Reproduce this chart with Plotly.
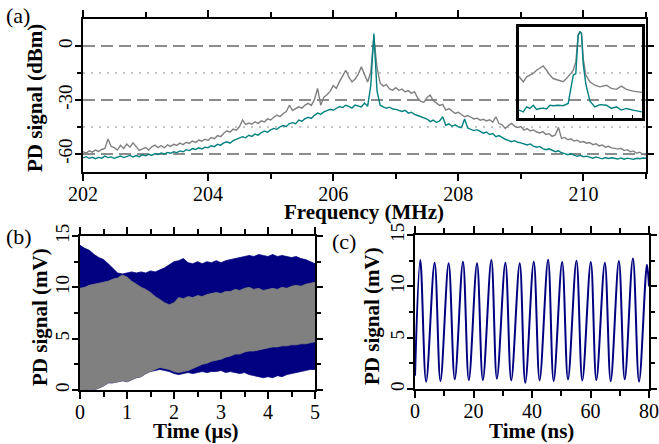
import plotly.graph_objects as go

# ---------------- (a) RF spectrum of the photodiode signal ----------------
# analyser sweep: 202-211 MHz, 0.05 MHz bins
freq_mhz = [round(202.0 + 0.05 * i, 2) for i in range(181)]

spec_gray_dbm = [
    -58.7, -59.5, -58.2, -59.0, -57.8, -58.6, -57.5, -56.9, -51.7, -55.8,
    -56.5, -57.8, -55.2, -56.9, -54.5, -56.2, -53.8, -55.9, -58.0, -57.2,
    -56.4, -57.8, -56.0, -55.1, -56.5, -55.3, -56.6, -54.9, -55.8, -54.6,
    -55.2, -53.9, -54.8, -53.5, -54.1, -52.8, -53.6, -52.3, -52.9, -51.8,
    -52.4, -50.9, -51.5, -49.8, -50.4, -48.5, -47.1, -47.9, -46.2, -46.8,
    -44.9, -41.2, -43.6, -42.8, -43.5, -42.1, -43.0, -41.6, -42.2, -40.5,
    -41.1, -39.6, -38.4, -39.2, -37.5, -36.4, -32.9, -35.8, -34.6, -33.8,
    -34.5, -32.8, -31.9, -33.0, -29.8, -23.6, -32.9, -28.4, -27.1, -25.2,
    -22.0, -23.5, -19.8, -16.9, -13.5, -17.2, -20.0, -18.3, -15.6, -11.6,
    -16.2, -20.0, -14.5, 5.0, -12.0, -20.7, -22.3, -21.5, -23.8, -24.5,
    -23.2, -24.6, -23.9, -25.5, -24.8, -26.3, -25.4, -28.9, -30.8, -31.2,
    -28.6, -27.3, -30.5, -31.8, -33.0, -32.4, -35.6, -34.8, -36.2, -37.5,
    -36.8, -38.1, -39.3, -38.6, -39.8, -40.5, -40.1, -41.2, -40.7, -41.6,
    -41.0, -42.3, -39.3, -43.1, -43.8, -45.8, -44.2, -43.0, -44.5, -45.3,
    -44.8, -46.7, -45.9, -47.2, -46.5, -47.8, -48.3, -47.6, -49.1, -48.7,
    -50.2, -49.4, -45.2, -51.3, -50.8, -52.1, -51.6, -52.8, -52.3, -53.5,
    -53.1, -54.0, -53.6, -54.8, -54.3, -55.5, -55.0, -56.2, -55.7, -56.6,
    -56.9, -57.3, -56.8, -58.1, -57.6, -58.8, -58.3, -59.6, -59.0, -60.2,
    -60.5,
]

spec_teal_dbm = [
    -62.2, -61.5, -62.4, -61.8, -62.6, -61.9, -62.3, -61.2, -62.0, -61.6,
    -62.4, -61.7, -61.1, -62.0, -61.4, -60.8, -61.6, -60.9, -61.5, -60.4,
    -61.0, -60.2, -60.8, -59.7, -60.3, -59.4, -60.0, -59.1, -59.6, -58.8,
    -59.2, -58.3, -58.8, -57.6, -58.1, -57.0, -57.5, -56.6, -57.2, -56.2,
    -56.5, -55.4, -55.9, -54.6, -55.1, -53.8, -53.2, -54.0, -52.6, -51.8,
    -51.4, -50.4, -51.0, -49.6, -50.2, -48.9, -49.5, -48.1, -47.3, -47.9,
    -46.6, -45.8, -46.3, -44.9, -44.2, -44.7, -43.1, -42.6, -43.2, -41.2,
    -41.8, -40.4, -39.6, -40.2, -38.5, -37.3, -37.9, -36.6, -35.9, -35.2,
    -35.7, -34.4, -33.6, -34.2, -32.9, -33.5, -34.5, -32.8, -33.4, -33.8,
    -31.7, -33.5, -22.0, 6.9, -25.0, -32.9, -33.8, -34.6, -34.0, -35.0,
    -35.2, -35.8, -36.4, -35.7, -37.3, -36.8, -38.0, -38.6, -39.3, -40.0,
    -40.6, -42.0, -41.2, -42.5, -41.6, -39.3, -44.0, -43.2, -44.6, -43.8,
    -44.9, -45.4, -40.5, -45.6, -46.3, -47.0, -46.5, -47.6, -48.4, -47.8,
    -49.2, -48.6, -50.4, -49.8, -51.0, -51.8, -52.4, -53.2, -52.6, -53.5,
    -53.8, -54.6, -55.0, -54.4, -55.6, -56.2, -55.8, -57.0, -57.6, -57.1,
    -58.0, -58.7, -58.2, -59.3, -59.8, -60.4, -59.9, -60.8, -61.3, -60.7,
    -61.5, -61.2, -61.8, -62.3, -61.6, -62.2, -62.7, -62.0, -62.5, -62.1,
    -62.4, -62.8, -62.2, -62.9, -62.3, -62.7, -63.0, -62.4, -62.6, -62.2,
    -62.4,
]

# fine sweep around the carrier (inset)
inset_freq_mhz = [
    206.320, 206.342, 206.359, 206.376, 206.393, 206.410, 206.427, 206.444,
    206.461, 206.478, 206.495, 206.521, 206.546, 206.563, 206.572, 206.584,
    206.598, 206.611, 206.623, 206.632, 206.640, 206.649, 206.662, 206.683,
    206.708, 206.734, 206.768, 206.793, 206.819, 206.844, 206.870, 206.904,
    206.950,
]
inset_gray_dbm = [
    -17.0, -19.9, -17.2, -16.2, -15.3, -13.5, -12.5, -11.1,
    -13.5, -16.2, -18.1, -19.0, -19.9, -18.1, -17.2, -15.5,
    -13.5, -8.9, 5.9, 7.8, 7.0, -7.0, -16.2, -19.9,
    -21.8, -22.7, -21.8, -23.6, -24.1, -22.3, -24.1, -25.1,
    -25.8,
]
inset_teal_dbm = [
    -35.6, -36.6, -33.8, -34.7, -32.9, -35.2, -34.7, -34.5,
    -35.0, -32.9, -33.2, -32.9, -33.2, -32.6, -31.9, -24.5,
    -16.2, -15.3, 5.9, 7.8, 7.0, -10.0, -21.0, -30.5,
    -33.8, -32.6, -32.9, -34.7, -33.8, -35.6, -34.7, -35.6,
    -36.6,
]

# ---------------- (b) envelope of the beat signal, 0-5 us ----------------
time_us = [round(0.1 * i, 1) for i in range(51)]

blue_upper_mv = [
    14.1, 13.8, 13.6, 13.2, 12.9, 12.7, 12.3, 11.8, 11.4, 11.3,
    11.4, 11.5, 11.4, 11.5, 11.4, 11.6, 11.5, 11.7, 11.9, 12.2,
    12.5, 12.6, 12.8, 12.4, 12.3, 12.5, 12.3, 12.5, 12.4, 12.6,
    12.4, 12.6, 12.7, 12.8, 12.9, 13.0, 13.1, 13.0, 13.2, 13.1,
    13.0, 13.2, 13.0, 13.1, 13.0, 12.9, 13.0, 12.8, 12.7, 12.5,
    12.3,
]
blue_lower_mv = [
    0.0, 0.0, 0.1, 0.0, 0.2, 0.4, 0.7, 0.7, 0.8, 0.9,
    0.8, 1.0, 1.2, 1.3, 1.6, 1.8, 1.9, 2.0, 1.9, 1.8,
    1.6, 1.5, 1.6, 1.7, 1.6, 1.7, 1.8, 1.7, 1.8, 1.8,
    1.9, 1.7, 1.8, 1.7, 1.6, 1.7, 1.5, 1.4, 1.3, 1.2,
    1.3, 1.2, 1.4, 1.3, 1.5, 1.6, 1.7, 1.8, 1.9, 2.0,
    2.0,
]
gray_upper_mv = [
    9.9, 10.0, 10.2, 10.3, 10.4, 10.5, 10.6, 10.8, 10.9, 11.2,
    11.0, 10.6, 10.3, 10.0, 9.8, 9.5, 9.1, 8.8, 8.5, 8.3,
    8.5, 9.0, 8.9, 9.1, 9.0, 9.2, 9.1, 9.3, 9.4, 9.5,
    9.4, 9.6, 9.6, 9.8, 9.7, 9.9, 10.0, 9.8, 9.9, 9.7,
    9.8, 9.9, 9.8, 10.0, 9.9, 10.1, 10.2, 10.1, 10.3, 10.4,
    10.5,
]
gray_lower_mv = [
    0.0, 0.0, 0.1, 0.0, 0.2, 0.4, 0.7, 0.7, 0.8, 0.9,
    0.8, 1.0, 1.2, 1.3, 1.6, 1.8, 2.0, 2.2, 2.1, 2.0,
    1.8, 1.7, 1.8, 1.9, 2.1, 2.3, 2.5, 2.6, 2.8, 2.9,
    3.0, 3.2, 3.3, 3.5, 3.5, 3.7, 3.8, 3.8, 3.9, 4.0,
    4.1, 4.2, 4.2, 4.3, 4.3, 4.4, 4.4, 4.5, 4.5, 4.6,
    4.7,
]

# ---------------- (c) single-shot trace, 0-80 ns (turning points) ----------------
wave_t_ns = [
    0.0, 1.8, 3.8, 6.7, 8.7, 11.5, 13.6, 16.4, 18.4, 21.2, 23.2, 26.1,
    28.0, 30.9, 32.9, 35.8, 37.7, 40.6, 42.6, 45.5, 47.4, 50.3, 52.3,
    55.2, 57.2, 60.1, 62.0, 64.9, 66.9, 69.7, 71.7, 74.5, 76.6, 79.3, 80.0,
]
wave_mv = [
    1.3, 12.56, 0.71, 12.30, 0.77, 12.24, 0.94, 12.40, 0.87, 12.24, 0.87, 12.56,
    1.00, 12.30, 0.84, 12.24, 0.60, 12.40, 0.84, 12.60, 0.77, 12.36, 0.94,
    12.50, 0.84, 12.36, 0.87, 12.30, 0.77, 12.46, 0.94, 12.70, 0.71, 12.10, 10.0,
]

# tick labels (plain hyphen minus)
spec_ticks = [-60, -30, 0]
spec_ticktext = ["-60", "-30", "0"]
spec_minor_ticks = [-45, -15]

GRAY = "#808080"
TEAL = "#008080"
NAVY = "#000080"
FONT = "Liberation Serif"
W, H = 659, 444

fig = go.Figure()

# (a) main spectrum
fig.add_trace(go.Scatter(x=freq_mhz, y=spec_gray_dbm, mode="lines",
                         line=dict(color=GRAY, width=1.4), xaxis="x", yaxis="y"))
fig.add_trace(go.Scatter(x=freq_mhz, y=spec_teal_dbm, mode="lines",
                         line=dict(color=TEAL, width=1.4), xaxis="x", yaxis="y"))
# (a) inset
fig.add_trace(go.Scatter(x=inset_freq_mhz, y=inset_gray_dbm, mode="lines",
                         line=dict(color=GRAY, width=1.4), xaxis="x4", yaxis="y4"))
fig.add_trace(go.Scatter(x=inset_freq_mhz, y=inset_teal_dbm, mode="lines",
                         line=dict(color=TEAL, width=1.4), xaxis="x4", yaxis="y4"))

# (b) filled envelopes: blue band underneath, gray band on top
fig.add_trace(go.Scatter(x=time_us + time_us[::-1], y=blue_upper_mv + blue_lower_mv[::-1],
                         mode="lines", fill="toself", fillcolor=NAVY,
                         line=dict(color=NAVY, width=0.8), xaxis="x2", yaxis="y2"))
fig.add_trace(go.Scatter(x=time_us + time_us[::-1], y=gray_upper_mv + gray_lower_mv[::-1],
                         mode="lines", fill="toself", fillcolor=GRAY,
                         line=dict(color=GRAY, width=0.8), xaxis="x2", yaxis="y2"))

# (c) oscillation
fig.add_trace(go.Scatter(x=wave_t_ns, y=wave_mv, mode="lines",
                         line=dict(color=NAVY, width=2, shape="spline", smoothing=1.0),
                         xaxis="x3", yaxis="y3"))


def xdom(a, b):
    return [a / W, b / W]


def ydom(top, bottom):
    return [1 - bottom / H, 1 - top / H]


xtickfont = dict(family=FONT, size=20, color="black")
ytickfont = dict(family=FONT, size=19, color="black")
common = dict(showline=True, linecolor="black", linewidth=2, mirror="ticks",
              ticks="outside", tickcolor="black", tickwidth=1.5,
              zeroline=False, automargin=False, showgrid=False)
xframe = dict(common, tickfont=xtickfont, ticklen=7, ticklabelstandoff=-4)
yframe = dict(common, tickfont=ytickfont, ticklen=6, tickangle=-90, ticklabelstandoff=-5)
minor_x = dict(ticks="outside", ticklen=5, tickcolor="black", tickwidth=1.5)
minor_y = dict(ticks="outside", ticklen=4, tickcolor="black", tickwidth=1.5)

fig.update_layout(
    width=W, height=H, margin=dict(l=0, r=0, t=0, b=0),
    paper_bgcolor="white", plot_bgcolor="rgba(0,0,0,0)",
    showlegend=False, font=dict(family=FONT, color="black"),
    xaxis=dict(domain=xdom(83, 646), anchor="y", range=[202, 211], tick0=202, dtick=2,
               minor=dict(minor_x, dtick=1), **xframe),
    yaxis=dict(domain=ydom(19, 172), anchor="x", range=[-70, 15],
               tickvals=spec_ticks, ticktext=spec_ticktext,
               minor=dict(minor_y, tickvals=spec_minor_ticks, showgrid=True,
                          gridcolor="#c4c4c4", gridwidth=1.5, griddash="2px,6px"),
               **yframe),
    xaxis2=dict(domain=xdom(80, 315), anchor="y2", range=[0, 5], dtick=1,
                minor=dict(minor_x, dtick=0.5), **xframe),
    yaxis2=dict(domain=ydom(236, 390), anchor="x2", range=[0, 15], dtick=5,
                minor=dict(minor_y, dtick=2.5), **yframe),
    xaxis3=dict(domain=xdom(415, 649), anchor="y3", range=[0, 80], dtick=20,
                minor=dict(minor_x, dtick=10), **xframe),
    yaxis3=dict(domain=ydom(235, 389), anchor="x3", range=[0, 15], dtick=5,
                minor=dict(minor_y, dtick=2.5), **yframe),
    xaxis4=dict(domain=xdom(519, 642), anchor="y4", range=[206.32, 206.95],
                showline=True, linecolor="black", linewidth=3, mirror=True,
                ticks="inside", ticklen=3, tickcolor="black", dtick=0.1,
                showticklabels=False, showgrid=False, zeroline=False, automargin=False),
    yaxis4=dict(domain=ydom(27, 118), anchor="x4", range=[-40, 10.5],
                showline=True, linecolor="black", linewidth=3, mirror=True,
                ticks="", showticklabels=False, showgrid=False, zeroline=False,
                automargin=False),
)
# dashed major grid of the spectrum panel
fig.update_yaxes(selector=dict(anchor="x"), showgrid=True, gridcolor="#8c8c8c",
                 gridwidth=1.5, griddash="12px,6px")

# axis titles
titlefont = dict(family=FONT, size=21, color="black")
axis_titles = [
    ("<b>Frequency (MHz)</b>", 364, 212, 0),
    ("<b>PD signal (dBm)</b>", 35, 98, -90),
    ("<b>Time (\u03bcs)</b>", 196, 431, 0),
    ("<b>PD signal (mV)</b>", 40, 317, -90),
    ("<b>Time (ns)</b>", 531, 431, 0),
    ("<b>PD signal (mV)</b>", 372, 316, -90),
]
for text, x, y, ang in axis_titles:
    fig.add_annotation(text=text, xref="paper", yref="paper", x=x / W, y=1 - y / H,
                       xanchor="center", yanchor="middle", textangle=ang,
                       showarrow=False, font=titlefont)

# panel labels
for label, x, y in [("(a)", 4, 1), ("(b)", 4, 222), ("(c)", 330, 227)]:
    fig.add_annotation(text=label, xref="paper", yref="paper", x=x / W, y=1 - y / H,
                       xanchor="left", yanchor="top", showarrow=False,
                       font=dict(family=FONT, size=22, color="black"))

fig.write_html("out.html")
